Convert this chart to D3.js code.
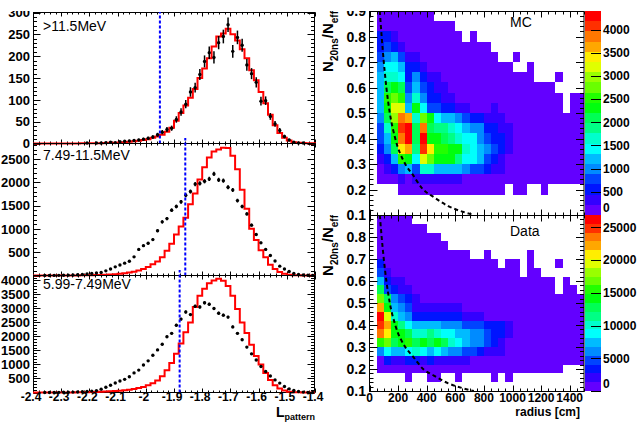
<!DOCTYPE html>
<html><head><meta charset="utf-8">
<script src="https://d3js.org/d3.v7.min.js"></script>
<style>html,body{margin:0;padding:0;background:#fff;}svg{display:block;}</style>
</head><body>
<svg id="chart" width="639" height="422"></svg>
<script>
// ================= DATA =================
const lpRange = [-2.4, -1.4];
const lpBins = 60;
const energyLabels = [">11.5MeV", "7.49-11.5MeV", "5.99-7.49MeV"];
const cutValues = [-1.95, -1.86, -1.88];
const yMaxLeft = [300, 2830, 4175];
const yTickLabelsTop = [0, 50, 100, 150, 200, 250, 300];
const yTickLabelsMid = [500, 1000, 1500, 2000, 2500];
const yTickLabelsBot = [500, 1000, 1500, 2000, 2500, 3000, 3500, 4000];
const xTickLabelsLeft = [-2.4, -2.3, -2.2, -2.1, -2, -1.9, -1.8, -1.7, -1.6, -1.5, -1.4];

// MC (red histograms) and data (black points), 60 bins each
const mcHigh = [0,0,0,0,0,0,0,0,0,0, 0.3,0.5,0.5,0.6,0.8,1,1.5,2,2.5,3, 4,5,6.5,8,10,13,16,20,27,36,
  52,70,87,105,125,150,172,195,222,245, 252,263,250,236,216,195,168,145,118,92, 66,42,24,13,7,3,2,1,0.5,0.3];
const dataHigh = [0,0,0,0,0,0,0,0,0,0, 0,1,0,1,1,2,3,2,4,5, 6,7,8,10,12,15,20,26,32,35,
  55,72,90,118,128,158,188,208,197,231, 245,272,211,243,225,180,160,140,97,98, 62,45,30,16,8,3,1,1,0,0];
const mcMid = [0,0,0,0,0,0,0,1,1,2, 3,5,7,10,13,17,22,28,36,48, 62,80,105,140,180,240,300,390,530,680,
  880,1050,1240,1530,1760,2060,2320,2530,2660,2700, 2740,2735,2570,2280,1840,1430,1000,760,540,390, 230,140,75,38,18,8,4,2,1,0];
const dataMid = [0,0,1,1,2,3,5,8,12,16, 21,32,45,55,64,100,138,185,225,265, 305,400,560,640,690,770,960,1150,1220,1400,
  1480,1580,1720,1800,1960,1975,2020,2070,2178,2050, 2034,1891,1835,1606,1480,1321,1080,880,700,560, 430,310,200,140,85,45,20,10,5,2];
const mcLow = [0,0,0,0,0,0,1,2,3,5, 8,12,17,22,28,35,45,55,62,80, 100,125,160,195,260,330,430,580,790,1050,
  1380,1750,2150,2500,3050,3450,3700,3900,4000,4060, 3990,3800,3450,2980,2500,2120,1700,1300,1000,700, 450,260,140,70,30,12,5,2,1,0];
const dataLow = [0,0,1,2,3,5,8,11,15,20, 25,38,50,68,120,190,260,340,410,470, 560,700,800,980,1130,1330,1520,1720,1990,2110,
  2400,2620,2870,2780,3080,3050,3200,3150,3000,2830, 2760,2690,2340,2110,1880,1620,1380,1160,930,750, 590,450,335,215,130,70,35,15,6,2];

// Right: 2D histograms (radius x N20ns/Neff); rows from N=0.90 (top) down to N=0.10
const radiusRange = [0, 1500];
const radiusBins = 30;
const nRatioRange = [0.1, 0.9];
const nRatioBins = 20;
const xTickLabelsRight = [0, 200, 400, 600, 800, 1000, 1200, 1400];
const yTickLabelsRightTop = [0.1, 0.2, 0.3, 0.4, 0.5, 0.6, 0.7, 0.8, 0.9];
const yTickLabelsRightBot = [0.1, 0.2, 0.3, 0.4, 0.5, 0.6, 0.7, 0.8];
const zMaxMC = 4400;
const zMaxData = 26900;
const zTicksMC = [0, 500, 1000, 1500, 2000, 2500, 3000, 3500, 4000];
const zTicksData = [0, 5000, 10000, 15000, 20000, 25000];
const cutCurve = [[72,0.9],[85,0.8],[100,0.7],[118,0.6],[142,0.5],[180,0.4],[250,0.3],[300,0.26],[375,0.2],[450,0.17],[550,0.135],[650,0.113],[730,0.1]];

const mcGrid = [
 [0,60,60,60,60,60,60,60,60,0,0,0,0,0,0,0,0,0,0,0,0,0,0,0,0,0,0,0,0,0],
 [0,60,60,60,60,60,60,60,60,60,60,60,0,0,0,0,0,0,0,0,0,0,0,0,0,0,0,0,0,0],
 [0,550,550,330,60,60,60,60,60,60,60,60,60,0,60,0,0,0,0,0,0,0,0,0,0,0,0,0,0,0],
 [0,550,770,550,330,60,60,60,60,60,60,60,60,60,60,60,60,0,0,0,0,0,0,0,0,0,0,0,0,0],
 [0,770,990,1210,770,330,330,60,60,60,60,60,60,60,60,60,60,60,0,0,60,0,0,0,0,0,0,0,0,0],
 [0,990,1440,1440,1210,550,550,330,60,60,60,60,60,60,60,60,60,60,60,60,0,0,60,0,0,0,0,0,0,0],
 [0,1210,1660,1660,1440,550,990,550,330,330,60,60,60,60,60,60,60,60,60,60,60,60,60,0,0,0,60,0,0,0],
 [0,1210,2100,2320,2100,770,1210,770,550,330,330,60,60,60,60,60,60,60,60,60,60,60,60,60,60,60,0,0,0,0],
 [0,1210,2540,2760,2540,990,1660,990,550,550,330,330,60,60,60,60,60,60,60,60,60,60,60,60,60,60,60,0,60,60],
 [0,1210,2320,3200,3200,1210,2320,1440,770,770,550,550,330,330,60,60,60,330,60,60,60,60,60,60,60,60,60,0,60,60],
 [0,990,2100,2980,3870,3650,1660,2760,2320,1440,1210,1210,990,770,550,550,330,330,330,60,60,60,60,60,60,60,60,60,60,60],
 [0,770,1660,2540,4090,4320,2100,3870,2100,1880,1880,1660,1440,1210,990,990,550,550,330,330,60,60,60,60,60,60,60,60,60,60],
 [0,770,1210,2320,3870,4400,2100,4320,2320,2320,2100,1880,1660,1440,1440,990,770,550,550,330,60,60,60,60,60,60,60,60,60,60],
 [0,550,990,2100,3430,3650,1880,4090,3430,2540,2540,2320,2320,1660,1440,1210,990,770,550,330,60,60,60,60,60,60,60,60,60,60],
 [0,330,550,1210,2540,2320,1440,3200,2760,2320,2320,2320,1880,1440,1440,1210,770,550,330,60,60,60,60,60,60,60,60,60,60,60],
 [0,60,330,550,990,1210,770,1660,1660,1210,1210,1210,1210,990,770,770,550,330,330,60,60,60,60,60,60,60,60,60,60,60],
 [0,60,60,60,330,60,330,330,330,330,330,330,330,60,60,60,60,60,60,60,60,60,60,60,60,60,60,60,60,60],
 [0,0,0,0,60,60,60,60,60,60,60,60,60,60,60,60,60,60,60,0,60,60,0,0,60,0,0,0,0,0],
 [0,0,0,0,0,0,0,0,0,0,0,0,0,0,0,0,0,0,0,0,0,0,0,0,0,0,0,0,0,0],
 [0,0,0,0,0,0,0,0,0,0,0,0,0,0,0,0,0,0,0,0,0,0,0,0,0,0,0,0,0,0]
];
const dataGrid = [
 [0,300,300,300,300,300,0,0,0,0,0,0,0,0,0,0,0,0,0,0,0,0,0,0,0,0,0,0,0,0],
 [0,300,300,300,300,300,300,300,0,0,0,0,0,0,0,0,0,0,0,0,0,0,0,0,0,0,0,0,0,0],
 [0,300,300,300,300,300,300,300,300,300,0,0,0,0,0,0,0,0,0,0,0,0,0,0,0,0,0,0,0,0],
 [0,300,300,300,300,300,300,300,300,300,300,0,0,0,0,0,0,0,0,0,0,0,0,0,0,0,0,0,0,0],
 [0,300,300,300,300,300,300,300,300,300,300,300,300,300,0,0,300,0,0,0,0,0,300,0,0,0,0,0,0,0],
 [0,3360,300,300,300,300,300,300,300,300,300,300,300,300,300,300,300,300,0,300,300,0,300,0,0,0,300,0,0,0],
 [0,4700,2000,300,300,300,300,300,300,300,300,300,300,300,300,300,300,300,300,300,300,0,300,300,0,0,0,0,0,0],
 [0,7400,3360,2000,2000,300,300,300,300,300,300,300,300,300,300,300,300,300,300,300,300,300,300,300,300,300,0,300,0,0],
 [0,12780,4700,3360,2000,2000,300,300,300,300,300,300,300,300,300,300,300,300,300,300,300,300,300,300,300,300,0,300,300,0],
 [0,16810,12780,6050,4700,3360,2000,300,300,300,300,300,300,300,300,300,300,300,300,300,300,300,300,300,300,300,300,300,300,300],
 [0,22190,14120,7400,6050,4700,2000,2000,2000,2000,2000,2000,2000,300,300,300,300,300,300,300,300,300,300,300,300,300,300,300,300,300],
 [0,26900,19500,10100,7400,6050,3360,3360,3360,3360,3360,3360,3360,2000,2000,2000,300,300,300,300,300,300,300,300,300,300,300,300,300,300],
 [0,24880,22190,14120,11430,8740,7400,7400,7400,7400,6050,6050,6050,4700,4700,4700,3360,3360,3360,2000,300,300,300,300,300,300,300,300,300,300],
 [0,23540,20850,14120,14120,12780,10100,10100,11430,10100,8740,8740,7400,7400,6050,6050,4700,3360,3360,2000,300,300,300,300,300,300,300,300,300,300],
 [0,15470,16810,12780,14120,15470,12780,14120,12780,14120,12780,10100,8740,7400,6050,6050,4700,3360,2000,300,300,300,300,300,300,300,300,300,300,300],
 [0,6050,8740,7400,7400,8740,10100,8740,7400,8740,7400,6050,6050,4700,4700,3360,2000,2000,2000,300,300,300,300,300,300,300,300,300,300,300],
 [0,300,3360,2000,2000,3360,3360,2000,3360,2000,2000,2000,2000,2000,300,300,300,300,300,300,300,300,300,300,300,300,300,300,300,300],
 [0,300,300,300,300,300,300,300,300,300,300,300,300,300,300,300,300,300,300,300,300,300,300,300,300,300,300,0,0,0],
 [0,0,0,0,0,300,0,0,300,300,0,0,300,0,0,0,0,300,0,300,0,0,0,0,0,0,0,0,0,0],
 [0,0,0,0,0,0,0,0,0,0,0,0,0,0,0,0,0,0,0,0,0,0,0,0,0,0,0,0,0,0]
];

// ================= DRAWING =================
const svg = d3.select("#chart");
const FONT = "'Liberation Sans', Arial, Helvetica, sans-serif";
svg.append("rect").attr("width", 639).attr("height", 422).attr("fill", "#fff");

const defs = svg.append("defs");
defs.append("clipPath").attr("id", "topclip").append("rect")
  .attr("x", 0).attr("y", 11).attr("width", 639).attr("height", 411);

function drawTicks(g, scale, orient, pos, values, len) {
  values.forEach(v => {
    const p = Math.round(scale(v)) + 0.5;
    let x1, y1, x2, y2;
    if (orient === "left")  { x1 = pos; x2 = pos + len; y1 = y2 = p; }
    if (orient === "right") { x1 = pos; x2 = pos - len; y1 = y2 = p; }
    if (orient === "bottom"){ y1 = pos; y2 = pos - len; x1 = x2 = p; }
    if (orient === "top")   { y1 = pos; y2 = pos + len; x1 = x2 = p; }
    g.append("line").attr("x1", x1).attr("x2", x2).attr("y1", y1).attr("y2", y2)
      .attr("stroke", "#000").attr("stroke-width", 1);
  });
}
function stepValues(lo, hi, step) {
  const n = Math.round((hi - lo) / step);
  const out = [];
  for (let i = 0; i <= n; i++) out.push(lo + i * step);
  return out.filter(v => v <= hi + 1e-9);
}

// ---------- Left column ----------
const lX = d3.scaleLinear().domain(lpRange).range([33, 315]);
const binW = (lpRange[1] - lpRange[0]) / lpBins;
const leftPanels = [
  { top: 12, bot: 143, ymax: yMaxLeft[0], maj: 50, min: 10, labels: yTickLabelsTop, mc: mcHigh, dat: dataHigh, cut: cutValues[0], text: energyLabels[0], tb: 30.5, over: 0 },
  { top: 143, bot: 275, ymax: yMaxLeft[1], maj: 500, min: 100, labels: yTickLabelsMid, mc: mcMid, dat: dataMid, cut: cutValues[1], text: energyLabels[1], tb: 159.5, over: 5 },
  { top: 275, bot: 392, ymax: yMaxLeft[2], maj: 500, min: 100, labels: yTickLabelsBot, mc: mcLow, dat: dataLow, cut: cutValues[2], text: energyLabels[2], tb: 289, over: 5 }
];
const majX = stepValues(lpRange[0], lpRange[1], 0.1);
const minX = stepValues(lpRange[0], lpRange[1], 0.02);

leftPanels.forEach((p, pi) => {
  const g = svg.append("g");
  const y = d3.scaleLinear().domain([0, p.ymax]).range([p.bot + 0.5, p.top + 0.5]);
  g.append("rect").attr("x", 33.5).attr("y", p.top + 0.5).attr("width", 281).attr("height", p.bot - p.top)
    .attr("fill", "none").attr("stroke", "#000").attr("stroke-width", 1);
  const majY = stepValues(0, p.ymax, p.maj), minY = stepValues(0, p.ymax, p.min);
  drawTicks(g, y, "left", 33.5, majY, 7);
  drawTicks(g, y, "left", 33.5, minY, 3.5);
  drawTicks(g, y, "right", 314.5, majY, 7);
  drawTicks(g, y, "right", 314.5, minY, 3.5);
  drawTicks(g, lX, "bottom", p.bot + 0.5, majX, 4);
  drawTicks(g, lX, "bottom", p.bot + 0.5, minX, 2);
  drawTicks(g, lX, "top", p.top + 0.5, majX, 4);
  drawTicks(g, lX, "top", p.top + 0.5, minX, 2);
  const lg = pi === 0 ? g.append("g").attr("clip-path", "url(#topclip)") : g;
  p.labels.forEach(v => {
    lg.append("text").attr("x", 30).attr("y", y(v)).attr("dy", "0.36em")
      .attr("text-anchor", "end").attr("font-family", FONT).attr("font-weight", "bold")
      .attr("font-size", 13).text(v);
  });
  let d = "M" + lX(lpRange[0]) + "," + y(0);
  p.mc.forEach((v, i) => {
    const xa = lX(lpRange[0] + i * binW), xb = lX(lpRange[0] + (i + 1) * binW);
    d += "L" + xa + "," + y(v) + "L" + xb + "," + y(v);
  });
  d += "L" + lX(lpRange[1]) + "," + y(0);
  g.append("path").attr("d", d).attr("fill", "none").attr("stroke", "#ff0000").attr("stroke-width", 2);
  p.dat.forEach((v, i) => {
    if (v <= 0) return;
    const xc = lX(lpRange[0] + (i + 0.5) * binW);
    const e = Math.sqrt(v);
    g.append("line").attr("x1", xc).attr("x2", xc).attr("y1", y(v + e)).attr("y2", y(Math.max(0, v - e)))
      .attr("stroke", "#000").attr("stroke-width", 1.5);
    g.append("circle").attr("cx", xc).attr("cy", y(v)).attr("r", 1.7).attr("fill", "#000");
  });
  g.append("line").attr("x1", lX(p.cut)).attr("x2", lX(p.cut)).attr("y1", y(0)).attr("y2", p.top - p.over)
    .attr("stroke", "#0000ff").attr("stroke-width", 2).attr("stroke-dasharray", "3,2");
  g.append("text").attr("x", 43).attr("y", p.tb).attr("font-family", FONT).attr("font-size", 14).text(p.text);
});
xTickLabelsLeft.forEach(v => {
  svg.append("text").attr("x", lX(v) - 2).attr("y", 401).attr("text-anchor", "middle")
    .attr("font-family", FONT).attr("font-weight", "bold").attr("font-size", 12).text(v);
});
const lt = svg.append("text").attr("x", 315).attr("y", 416.5).attr("text-anchor", "end")
  .attr("font-family", FONT).attr("font-weight", "bold");
lt.append("tspan").attr("font-size", 14).text("L");
lt.append("tspan").attr("font-size", 9).attr("dy", 3.5).text("pattern");

// ---------- Right column ----------
const rX = d3.scaleLinear().domain(radiusRange).range([369.5, 584]);
const rBinW = (radiusRange[1] - radiusRange[0]) / radiusBins;
const nBinW = (nRatioRange[1] - nRatioRange[0]) / nRatioBins;
function paletteColor(level) {
  const idx = Math.floor((level + 0.99) * 50 / 20);
  const hue = 280 - (idx + 1) * 5.6;
  return d3.hsl(hue, 1, 0.5).formatHex();
}
const rightPanels = [
  { top: 11, bot: 215, grid: mcGrid, zmax: zMaxMC, zticks: zTicksMC, labels: yTickLabelsRightTop, text: "MC", tb: 27, showX: false },
  { top: 215, bot: 391, grid: dataGrid, zmax: zMaxData, zticks: zTicksData, labels: yTickLabelsRightBot, text: "Data", tb: 235.5, showX: true }
];
rightPanels.forEach((p, pi) => {
  const g = svg.append("g");
  const y = d3.scaleLinear().domain(nRatioRange).range([p.bot, p.top]);
  const cid = "rclip" + pi;
  defs.append("clipPath").attr("id", cid).append("rect")
    .attr("x", rX(radiusRange[0])).attr("y", p.top).attr("width", rX(radiusRange[1]) - rX(radiusRange[0])).attr("height", p.bot - p.top);
  const cells = g.append("g").attr("shape-rendering", "crispEdges");
  p.grid.forEach((row, j) => {
    const nHi = nRatioRange[1] - j * nBinW, nLo = nRatioRange[1] - (j + 1) * nBinW;
    row.forEach((c, k) => {
      if (c <= 0) return;
      const lev = Math.min(19, Math.floor(c / p.zmax * 20));
      const xa = Math.round(rX(radiusRange[0] + k * rBinW)), xb = Math.round(rX(radiusRange[0] + (k + 1) * rBinW));
      const ya = Math.round(y(nHi)), yb = Math.round(y(nLo));
      cells.append("rect").attr("x", xa).attr("y", ya).attr("width", xb - xa).attr("height", yb - ya)
        .attr("fill", paletteColor(lev));
    });
  });
  g.append("path").attr("d", d3.line().x(d => rX(d[0])).y(d => y(d[1])).curve(d3.curveMonotoneX)(cutCurve))
    .attr("fill", "none").attr("stroke", "#000").attr("stroke-width", 2).attr("stroke-dasharray", "4,3")
    .attr("clip-path", "url(#" + cid + ")");
  g.append("rect").attr("x", 369.5).attr("y", p.top + 0.5).attr("width", 214.5).attr("height", p.bot - p.top)
    .attr("fill", "none").attr("stroke", "#000").attr("stroke-width", 1);
  const yMaj = stepValues(0.1, 0.9, 0.1), yMin = stepValues(0.1, 0.9, 0.02);
  const xMaj = stepValues(0, 1500, 200), xMin = stepValues(0, 1500, 50);
  drawTicks(g, y, "left", 369.5, yMaj, 8);
  drawTicks(g, y, "left", 369.5, yMin, 4);
  drawTicks(g, y, "right", 584, yMaj, 8);
  drawTicks(g, y, "right", 584, yMin, 4);
  drawTicks(g, rX, "bottom", p.bot + 0.5, xMaj, 6);
  drawTicks(g, rX, "bottom", p.bot + 0.5, xMin, 3);
  drawTicks(g, rX, "top", p.top + 0.5, xMaj, 6);
  drawTicks(g, rX, "top", p.top + 0.5, xMin, 3);
  const lg = pi === 0 ? g.append("g").attr("clip-path", "url(#topclip)") : g;
  p.labels.forEach(v => {
    lg.append("text").attr("x", 366).attr("y", y(v)).attr("dy", "0.36em").attr("text-anchor", "end")
      .attr("font-family", FONT).attr("font-weight", "bold").attr("font-size", 14).text(v.toFixed(1));
  });
  if (p.showX) {
    xTickLabelsRight.forEach(v => {
      g.append("text").attr("x", rX(v)).attr("y", 402).attr("text-anchor", "middle")
        .attr("font-family", FONT).attr("font-weight", "bold").attr("font-size", 12).text(v);
    });
  }
  const t = g.append("text").attr("transform", "translate(333," + p.top + ") rotate(-90)")
    .attr("text-anchor", "end").attr("font-family", FONT).attr("font-weight", "bold");
  t.append("tspan").attr("font-size", 15).text("N");
  t.append("tspan").attr("font-size", 10).attr("dy", 5).text("20ns");
  t.append("tspan").attr("font-size", 15).attr("dy", -5).text("/N");
  t.append("tspan").attr("font-size", 10).attr("dy", 5).text("eff");
  g.append("text").attr("x", 510).attr("y", p.tb).attr("font-family", FONT).attr("font-size", 14).text(p.text);
  const z = d3.scaleLinear().domain([0, p.zmax]).range([p.bot, p.top]);
  const cb = g.append("g").attr("shape-rendering", "crispEdges");
  d3.range(20).forEach(l => {
    const ya = Math.round(z((l + 1) * p.zmax / 20)), yb = Math.round(z(l * p.zmax / 20));
    cb.append("rect").attr("x", 585).attr("y", ya).attr("width", 16).attr("height", yb - ya).attr("fill", paletteColor(l));
  });
  p.zticks.forEach(v => {
    const yy = Math.round(z(v)) + 0.5;
    g.append("line").attr("x1", 591).attr("x2", 601).attr("y1", yy).attr("y2", yy).attr("stroke", "#000").attr("stroke-width", 1);
    g.append("text").attr("x", 603).attr("y", v === 0 ? p.bot - 3 : z(v)).attr("dy", v === 0 ? 0 : "0.36em")
      .attr("font-family", FONT).attr("font-weight", "bold").attr("font-size", 12).text(v);
  });
});
svg.append("text").attr("x", 580).attr("y", 416).attr("text-anchor", "end")
  .attr("font-family", FONT).attr("font-weight", "bold").attr("font-size", 12).text("radius [cm]");
</script>
</body></html>
